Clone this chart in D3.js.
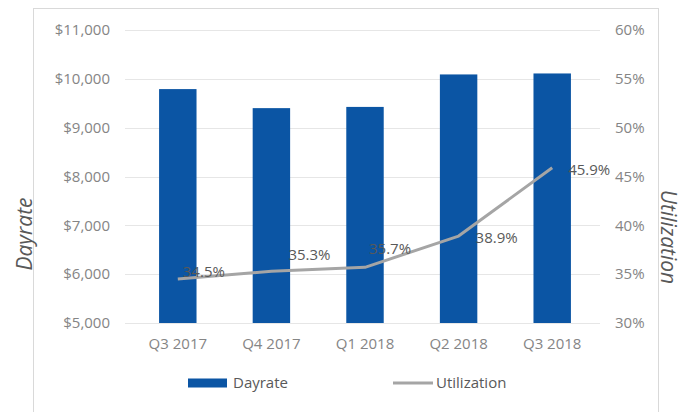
<!DOCTYPE html>
<html>
<head>
<meta charset="utf-8">
<script src="https://cdn.jsdelivr.net/npm/d3@7"></script>
<style>
  body { margin: 0; background: #fff; }
  svg text { font-family: "Open Sans", "Noto Sans", sans-serif; }
</style>
</head>
<body>
<div id="chart"></div>
<script>
// Chart data
const quarters = ["Q3 2017", "Q4 2017", "Q1 2018", "Q2 2018", "Q3 2018"];
const dayrate = [9790, 9400, 9425, 10090, 10110];
const utilization = [34.5, 35.3, 35.7, 38.9, 45.9];
const dayrateTicks = [5000, 6000, 7000, 8000, 9000, 10000, 11000];
const utilTicks = [30, 35, 40, 45, 50, 55, 60];
// label nudges as placed in the original (dx, dy)
const labelNudge = [[5, -7], [17, -16], [4, -19], [17, 2], [16, 2]];

const width = 682, height = 412;
const plot = { left: 131, right: 599, top: 30, bottom: 323 };

const svg = d3.select("#chart").append("svg")
    .attr("width", width)
    .attr("height", height);

// outer frame
svg.append("rect")
    .attr("x", 33.5).attr("y", 8.5)
    .attr("width", 625).attr("height", 410)
    .attr("fill", "none")
    .attr("stroke", "#d9d9d9");

const x = d3.scaleBand()
    .domain(quarters)
    .range([plot.left, plot.right])
    .paddingInner(0.6)
    .paddingOuter(0.3);

const yL = d3.scaleLinear().domain([5000, 11000]).range([plot.bottom, plot.top]);
const yR = d3.scaleLinear().domain([30, 60]).range([plot.bottom, plot.top]);

// gridlines
svg.append("g")
    .selectAll("line")
    .data(dayrateTicks)
    .enter()
    .append("line")
    .attr("x1", plot.left - 6)
    .attr("x2", plot.right + 1)
    .attr("y1", d => Math.round(yL(d)) + 0.5)
    .attr("y2", d => Math.round(yL(d)) + 0.5)
    .attr("stroke", "#e6e6e6")
    .attr("stroke-width", 1.2);

// left axis
const fmtDollar = d3.format("$,");
const leftAxis = svg.append("g")
    .attr("transform", `translate(${plot.left - 21},0)`)
    .call(d3.axisLeft(yL).tickValues(dayrateTicks).tickFormat(fmtDollar).tickSize(0).tickPadding(0));
leftAxis.select(".domain").remove();
leftAxis.selectAll("text")
    .attr("fill", "#858585")
    .attr("font-size", "15px")
    .attr("font-family", "'Open Sans', sans-serif");

// right axis
const rightAxis = svg.append("g")
    .attr("transform", `translate(${plot.right + 16},0)`)
    .call(d3.axisRight(yR).tickValues(utilTicks).tickFormat(d => d + "%").tickSize(0).tickPadding(0));
rightAxis.select(".domain").remove();
rightAxis.selectAll("text")
    .attr("fill", "#858585")
    .attr("font-size", "15px")
    .attr("font-family", "'Open Sans', sans-serif");

// bottom axis
const bottomAxis = svg.append("g")
    .attr("transform", `translate(0,${plot.bottom + 15})`)
    .call(d3.axisBottom(x).tickSize(0).tickPadding(0));
bottomAxis.select(".domain").remove();
bottomAxis.selectAll("text")
    .attr("fill", "#858585")
    .attr("font-size", "15px")
    .attr("dy", "0.75em")
    .attr("font-family", "'Open Sans', sans-serif");

// bars
svg.append("g")
    .selectAll("rect")
    .data(dayrate)
    .enter()
    .append("rect")
    .attr("x", (d, i) => x(quarters[i]))
    .attr("y", d => yL(d))
    .attr("width", x.bandwidth())
    .attr("height", d => plot.bottom - yL(d))
    .attr("fill", "#0b55a4");

// utilization line
const line = d3.line()
    .x((d, i) => x(quarters[i]) + x.bandwidth() / 2)
    .y(d => yR(d));

svg.append("path")
    .datum(utilization)
    .attr("d", line)
    .attr("fill", "none")
    .attr("stroke", "#a5a5a5")
    .attr("stroke-width", 3)
    .attr("stroke-linejoin", "round");

// data labels
svg.append("g")
    .selectAll("text")
    .data(utilization)
    .enter()
    .append("text")
    .attr("x", (d, i) => x(quarters[i]) + x.bandwidth() / 2 + labelNudge[i][0])
    .attr("y", (d, i) => yR(d) + labelNudge[i][1])
    .attr("dy", "0.35em")
    .attr("fill", "#595959")
    .attr("font-size", "15px")
    .text(d => d.toFixed(1) + "%");

// axis titles
svg.append("text")
    .attr("transform", "translate(25,234) rotate(-90)")
    .attr("text-anchor", "middle")
    .attr("dy", "0.35em")
    .attr("font-size", "21px")
    .attr("font-style", "italic")
    .attr("fill", "#595959")
    .text("Dayrate");

svg.append("text")
    .attr("transform", "translate(668,237) rotate(90)")
    .attr("text-anchor", "middle")
    .attr("dy", "0.35em")
    .attr("font-size", "21px")
    .attr("font-style", "italic")
    .attr("fill", "#595959")
    .text("Utilization");

// legend
const legend = svg.append("g").attr("transform", "translate(0,383)");
legend.append("rect")
    .attr("x", 188).attr("y", -4.5)
    .attr("width", 39).attr("height", 9)
    .attr("fill", "#0b55a4");
legend.append("text")
    .attr("x", 233).attr("dy", "0.35em")
    .attr("fill", "#595959").attr("font-size", "15px")
    .text("Dayrate");
legend.append("line")
    .attr("x1", 393).attr("x2", 433)
    .attr("stroke", "#a5a5a5").attr("stroke-width", 3);
legend.append("text")
    .attr("x", 436).attr("dy", "0.35em")
    .attr("fill", "#595959").attr("font-size", "15px")
    .text("Utilization");
</script>
</body>
</html>
